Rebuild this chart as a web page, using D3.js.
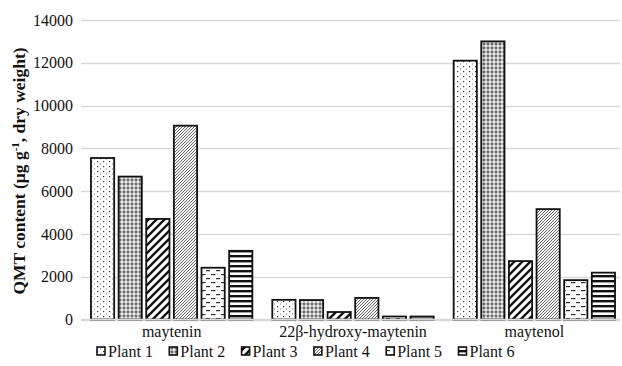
<!DOCTYPE html>
<html><head><meta charset="utf-8">
<script src="https://cdn.jsdelivr.net/npm/d3@7"></script>
<style>body{margin:0;background:#fff}svg{display:block}svg text{font-family:"Liberation Serif","Times New Roman","DejaVu Serif",serif}</style>
</head><body>
<svg id="c" width="622" height="366"></svg>
<script>
const categories = ["maytenin", "22β-hydroxy-maytenin", "maytenol"];
const seriesNames = ["Plant 1", "Plant 2", "Plant 3", "Plant 4", "Plant 5", "Plant 6"];
const plant1 = [7550, 920, 12100];
const plant2 = [6680, 910, 13000];
const plant3 = [4700, 350, 2730];
const plant4 = [9060, 1010, 5160];
const plant5 = [2420, 140, 1840];
const plant6 = [3210, 140, 2190];
const yTicks = [0, 2000, 4000, 6000, 8000, 10000, 12000, 14000];
const series = [plant1, plant2, plant3, plant4, plant5, plant6];

const svg = d3.select("#c");
const m = {left: 81, right: -3, top: 20, bottom: 47};
const W = 622, H = 366;
const x0 = d3.scaleBand().domain(categories).range([m.left, W - m.right]).paddingInner(0.11).paddingOuter(0.055);
const x1 = d3.scaleBand().domain(seriesNames).range([0, x0.bandwidth()]).paddingInner(0.16);
const y = d3.scaleLinear().domain([0, 14000]).range([H - m.bottom + 0.5, m.top]);

// patterns
const defs = svg.append("defs");
function pat(id, w, h, draw) {
  const p = defs.append("pattern").attr("id", id).attr("patternUnits", "userSpaceOnUse").attr("width", w).attr("height", h);
  p.append("rect").attr("width", w).attr("height", h).attr("fill", "#fff");
  draw(p);
}
pat("p0", 6, 5, p => {
  p.append("rect").attr("x", 1).attr("y", 1).attr("width", 1.2).attr("height", 1.2).attr("fill", "#333");
  p.append("rect").attr("x", 4).attr("y", 3.5).attr("width", 1).attr("height", 1).attr("fill", "#777");
});
pat("p1", 4, 4, p => {
  p.append("rect").attr("width", 4).attr("height", 4).attr("fill", "#a0a0a0");
  p.append("circle").attr("cx", 2).attr("cy", 2).attr("r", 1.4).attr("fill", "#ececec");
  [[0,0],[4,0],[0,4],[4,4]].forEach(([cx, cy]) =>
    p.append("circle").attr("cx", cx).attr("cy", cy).attr("r", 0.9).attr("fill", "#555"));
});
pat("p2", 8, 8, p => {
  p.append("path").attr("d", "M-2,10 L10,-2 M-6,6 L6,-6 M2,14 L14,2").attr("stroke", "#111").attr("stroke-width", 2.3);
});
pat("p3", 3, 3, p => {
  p.append("path").attr("d", "M-1,4 L4,-1 M-1,1 L1,-1 M2,4 L4,2").attr("stroke", "#555").attr("stroke-width", 0.9);
});
pat("p4", 10, 8, p => {
  p.append("rect").attr("x", 1).attr("y", 2).attr("width", 4.5).attr("height", 1.2).attr("fill", "#333");
  p.append("rect").attr("x", 6).attr("y", 6).attr("width", 4.5).attr("height", 1.2).attr("fill", "#333");
});
pat("p5", 4, 5, p => {
  p.append("rect").attr("x", 0).attr("y", 0).attr("width", 4).attr("height", 2.4).attr("fill", "#111");
});

// gridlines
svg.append("g").selectAll("line").data(yTicks).join("line")
  .attr("x1", m.left).attr("x2", W - 2)
  .attr("y1", d => Math.round(y(d)) + 0.5).attr("y2", d => Math.round(y(d)) + 0.5)
  .attr("stroke", "#d9d9d9").attr("stroke-width", 1.5);

// y axis labels
const yAxis = d3.axisLeft(y).tickValues(yTicks).tickSize(0).tickPadding(8).tickFormat(d3.format("d"));
const ga = svg.append("g").attr("transform", `translate(${m.left},0)`).call(yAxis);
ga.attr("font-family", null);
ga.select(".domain").remove();
ga.selectAll("text").attr("font-size", 16).attr("fill", "#111");

// bars
const g = svg.append("g");
categories.forEach((c, ci) => {
  series.forEach((s, si) => {
    g.append("rect")
      .attr("x", x0(c) + x1(seriesNames[si]))
      .attr("y", y(s[ci]))
      .attr("width", x1.bandwidth())
      .attr("height", y(0) - y(s[ci]))
      .attr("fill", `url(#p${si})`)
      .attr("stroke", "#111").attr("stroke-width", 1.8);
  });
});

// x axis
const xAxis = d3.axisBottom(x0).tickSize(0).tickPadding(6);
const gx = svg.append("g").attr("transform", `translate(0,${y(0)})`).call(xAxis);
gx.attr("font-family", null);
gx.select(".domain").attr("stroke", "#d9d9d9").attr("stroke-width", 1.5).attr("d", `M${m.left},0H${W - 2}`);
gx.selectAll("text").attr("font-size", 16).attr("fill", "#111");

// y title
const yt = svg.append("text").attr("transform", "translate(25,171) rotate(-90)")
  .attr("text-anchor", "middle").attr("font-size", 17.5).attr("font-weight", "bold").attr("fill", "#111");
yt.append("tspan").text("QMT content (μg g");
yt.append("tspan").attr("dy", -6).attr("font-size", 11).text("-1");
yt.append("tspan").attr("dy", 6).text(", dry weight)");

// legend
const lg = svg.append("g");
seriesNames.forEach((n, i) => {
  const lx = 97 + i * 72.3, ly = 352;
  lg.append("rect").attr("x", lx).attr("y", ly - 5).attr("width", 8).attr("height", 8)
    .attr("fill", `url(#p${i})`).attr("stroke", "#111").attr("stroke-width", 1.6);
  lg.append("text").attr("x", lx + 11).attr("y", ly + 5).attr("font-size", 16).attr("fill", "#111").text(n);
});
</script>
</body></html>
